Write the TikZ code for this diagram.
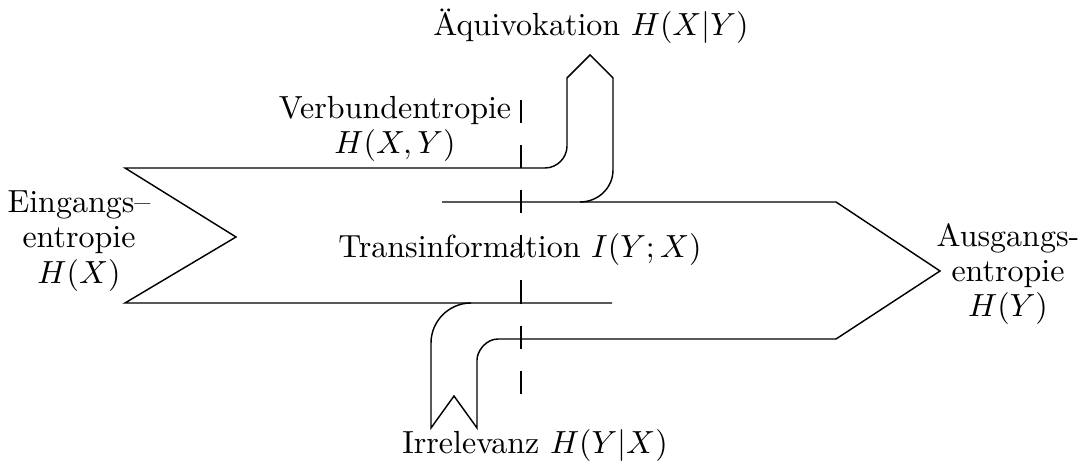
\documentclass[tikz,border=0pt]{standalone}
\usepackage{amsmath,amssymb}
\usepackage{tikz}

\begin{document}
\begin{tikzpicture}[
  x=0.3125pt, y=-0.3125pt,
  label/.style={align=center, inner sep=0pt, font=\fontsize{10}{11}\selectfont},
  band/.style={line width=0.45pt, line join=miter},
  cut/.style={line width=0.45pt, dash pattern=on 7.2pt off 6.9pt},
]
  \useasboundingbox (0,0) rectangle (1082,468);

  % Input band with joint-entropy branch
  \draw[band] (612,303) -- (125,303) -- (236,237) -- (125,168) -- (545,168)
    .. controls (557,168) and (567,158) .. (567,146) -- (567,78) -- (590,55)
    -- (613,78) -- (613,170) .. controls (613,188) and (598,202) .. (580,202);

  % Output band with irrelevance branch
  \draw[band] (442,202) -- (836,202) -- (940,271) -- (836,339) -- (498,339)
    .. controls (486,339) and (477,351) .. (477,360) -- (477,428) -- (454,396)
    -- (431,428) -- (431,343) .. controls (431,321) and (449,303) .. (471,303);

  % Channel cut
  \draw[cut] (521,100) -- (521,397);

  % Labels
  \node[label] (aequi) at (591,26) {\"Aquivokation $H(X|Y)$};
  \node[label] (verbund) at (395,129) {Verbundentropie\\$H(X,Y)$};
  \node[label] (eingang) at (79,241) {Eingangs--\\entropie\\$H(X)$};
  \node[label] (trans) at (520,250) {Transinformation $I(Y;X)$};
  \node[label] (ausgang) at (1008,274) {Ausgangs-\\entropie\\$H(Y)$};
  \node[label] (irrel) at (535,446) {Irrelevanz $H(Y|X)$};
\end{tikzpicture}
\end{document}
